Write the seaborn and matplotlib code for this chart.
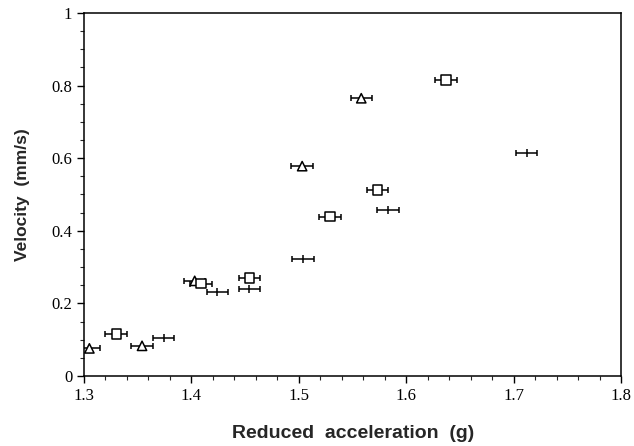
import numpy as np
import pandas as pd
import seaborn as sns
from matplotlib import pyplot as plt
from matplotlib.ticker import MultipleLocator

# values
tri_x = [1.305, 1.354, 1.403, 1.503, 1.558]
tri_v = [0.076, 0.083, 0.262, 0.578, 0.765]

sq_x = [1.330, 1.409, 1.454, 1.529, 1.573, 1.637]
sq_v = [0.116, 0.254, 0.270, 0.439, 0.512, 0.815]

plain_x = [1.374, 1.424, 1.454, 1.504, 1.583, 1.712]
plain_v = [0.104, 0.230, 0.239, 0.322, 0.457, 0.613]

x_err = 0.01

df = pd.concat([
    pd.DataFrame({'acc': tri_x, 'vel': tri_v, 'kind': 'tri'}),
    pd.DataFrame({'acc': sq_x, 'vel': sq_v, 'kind': 'sq'}),
    pd.DataFrame({'acc': plain_x, 'vel': plain_v, 'kind': 'plain'}),
], ignore_index=True)
open_pts = df[df['kind'] != 'plain']
plain_pts = df[df['kind'] == 'plain']

sns.set_style('ticks')
plt.rcParams['font.family'] = ['Liberation Serif', 'DejaVu Serif']

fig = plt.figure(figsize=(6.34, 4.46), dpi=100)
ax = fig.add_axes([0.1325, 0.157, 0.8475, 0.814])

ax.errorbar(df['acc'], df['vel'], xerr=x_err, fmt='none', ecolor='black',
            elinewidth=1.1, capsize=2.5, capthick=1.1, zorder=2)
sns.scatterplot(data=open_pts, x='acc', y='vel', style='kind',
                markers={'tri': '^', 'sq': 's'}, style_order=['tri', 'sq'],
                s=45, facecolor='white', edgecolor='black', linewidth=1.1,
                legend=False, ax=ax, zorder=3)
sns.scatterplot(data=plain_pts, x='acc', y='vel', marker='|', s=40,
                color='black', linewidth=1.1, legend=False, ax=ax, zorder=3)

ax.set_xlim(1.3, 1.8)
ax.set_ylim(0, 1)
ax.xaxis.set_minor_locator(MultipleLocator(0.02))
ax.yaxis.set_minor_locator(MultipleLocator(0.05))
ax.set_xticks(np.arange(1.3, 1.81, 0.1))
ax.set_xticklabels(['1.3', '1.4', '1.5', '1.6', '1.7', '1.8'])
ax.set_yticks(np.arange(0, 1.01, 0.2))
ax.set_yticklabels(['0', '0.2', '0.4', '0.6', '0.8', '1'])
ax.tick_params(which='major', length=5, width=1, direction='out', labelsize=12, colors='black')
ax.tick_params(which='minor', length=3, width=0.8, direction='out')
for sp in ax.spines.values():
    sp.set_linewidth(1.1)
    sp.set_color('black')

ax.set_xlabel('Reduced  acceleration  (g)', family=['Liberation Sans', 'DejaVu Sans'],
              fontweight='bold', fontsize=14, labelpad=15)
ax.set_ylabel('Velocity  (mm/s)', family=['Liberation Sans', 'DejaVu Sans'],
              fontweight='bold', fontsize=12.5, labelpad=15)

fig.savefig('out.png', dpi=100)
